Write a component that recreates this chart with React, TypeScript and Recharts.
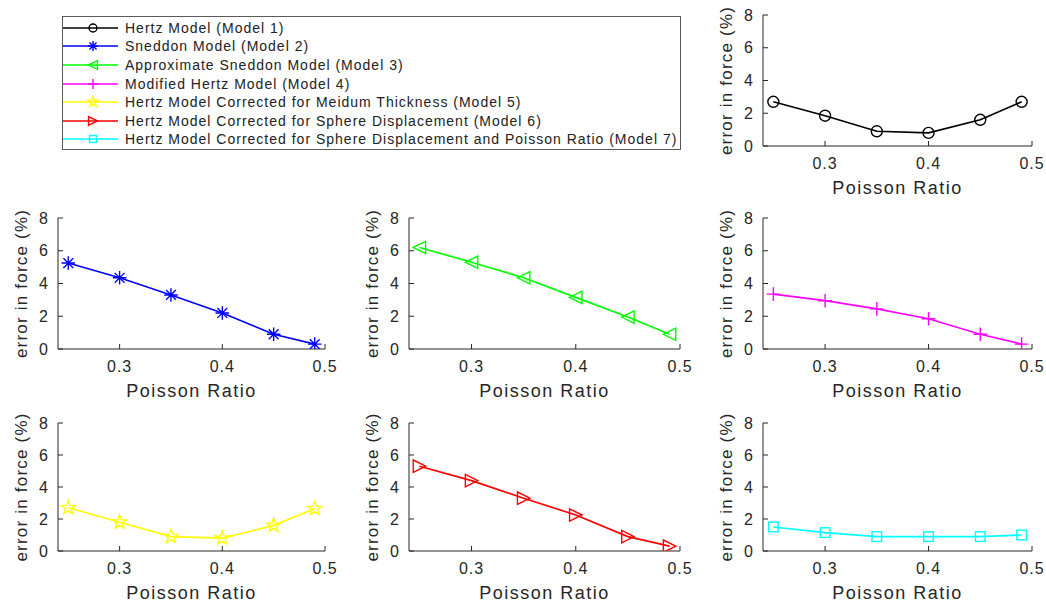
import React from "react";
import { LineChart, Line, XAxis, YAxis } from "recharts";

// x values shared by all seven models
const poissonRatio = [0.25, 0.3, 0.35, 0.4, 0.45, 0.49];

// error in force (%) for each model
const hertzError = [2.7, 1.85, 0.9, 0.8, 1.6, 2.7];
const sneddonError = [5.25, 4.35, 3.3, 2.2, 0.9, 0.3];
const approxSneddonError = [6.2, 5.3, 4.35, 3.15, 1.95, 0.9];
const modifiedHertzError = [3.35, 2.95, 2.45, 1.85, 0.9, 0.3];
const thicknessError = [2.7, 1.8, 0.9, 0.8, 1.6, 2.65];
const displacementError = [5.3, 4.4, 3.3, 2.25, 0.9, 0.3];
const displacementPoissonError = [1.5, 1.15, 0.9, 0.9, 0.9, 1.0];

const xTicks = [0.3, 0.4, 0.5];
const yTicks = [0, 2, 4, 6, 8];

type Shape =
  | "circle"
  | "asterisk"
  | "triangleLeft"
  | "plus"
  | "star"
  | "triangleRight"
  | "square";

type Model = { name: string; values: number[]; color: string; shape: Shape };

const models: Model[] = [
  { name: "Hertz Model (Model 1)", values: hertzError, color: "#000000", shape: "circle" },
  { name: "Sneddon Model (Model 2)", values: sneddonError, color: "#0000ff", shape: "asterisk" },
  { name: "Approximate Sneddon Model (Model 3)", values: approxSneddonError, color: "#00ff00", shape: "triangleLeft" },
  { name: "Modified Hertz Model (Model 4)", values: modifiedHertzError, color: "#ff00ff", shape: "plus" },
  { name: "Hertz Model Corrected for Meidum Thickness (Model 5)", values: thicknessError, color: "#ffff00", shape: "star" },
  { name: "Hertz Model Corrected for Sphere Displacement (Model 6)", values: displacementError, color: "#ff0000", shape: "triangleRight" },
  {
    name: "Hertz Model Corrected for Sphere Displacement and Poisson Ratio (Model 7)",
    values: displacementPoissonError,
    color: "#00ffff",
    shape: "square",
  },
];

// grid slot (col,row) for each model, legend takes the first two top cells
const slots = [
  [2, 0],
  [0, 1],
  [1, 1],
  [2, 1],
  [0, 2],
  [1, 2],
  [2, 2],
];
const colLeft = [58, 409, 763];
const colWidth = [267, 271, 269];
const rowTop = [15, 218, 423];
const rowHeight = [131, 131, 128];

const axisColor = "#262626";
const fontFamily = '"Liberation Sans", Arial, Helvetica, sans-serif';

function Marker({
  shape,
  cx,
  cy,
  color,
  s = 1,
}: {
  shape: Shape;
  cx: number;
  cy: number;
  color: string;
  s?: number;
}) {
  const common = { fill: "none", stroke: color, strokeWidth: 1.4 };
  if (cx == null || cy == null) return null;
  switch (shape) {
    case "circle":
      return <circle cx={cx} cy={cy} r={5.5 * s} {...common} />;
    case "square": {
      const h = 4.8 * s;
      return <rect x={cx - h} y={cy - h} width={h * 2} height={h * 2} {...common} />;
    }
    case "triangleLeft":
    case "triangleRight": {
      const r = 6.2 * s;
      const d = shape === "triangleLeft" ? 1 : -1;
      return (
        <polygon
          points={`${cx - d * r},${cy} ${cx + d * r},${cy - r} ${cx + d * r},${cy + r}`}
          {...common}
        />
      );
    }
    case "plus": {
      const r = 6.8 * s;
      return <path d={`M${cx - r},${cy}H${cx + r}M${cx},${cy - r}V${cy + r}`} {...common} />;
    }
    case "asterisk": {
      const r = 6.8 * s;
      const q = r * 0.72;
      return (
        <path
          d={`M${cx - r},${cy}H${cx + r}M${cx},${cy - r}V${cy + r}M${cx - q},${cy - q}L${cx + q},${cy + q}M${cx - q},${cy + q}L${cx + q},${cy - q}`}
          {...common}
        />
      );
    }
    case "star": {
      const outer = 7.3 * s;
      const inner = 3 * s;
      const pts: string[] = [];
      for (let i = 0; i < 10; i++) {
        const r = i % 2 === 0 ? outer : inner;
        const a = -Math.PI / 2 + (i * Math.PI) / 5;
        pts.push(`${cx + r * Math.cos(a)},${cy + r * Math.sin(a)}`);
      }
      return <polygon points={pts.join(" ")} {...common} />;
    }
  }
  return null;
}

function ModelPanel({ model, col, row }: { model: Model; col: number; row: number }) {
  const padL = 80;
  const padT = 10;
  const padR = 25;
  const xAxisH = 84;
  const yAxisW = 74;
  const w = colWidth[col];
  const h = rowHeight[row];
  const data = poissonRatio.map((x, i) => ({ x, y: model.values[i] }));

  return (
    <div style={{ position: "absolute", left: colLeft[col] - padL, top: rowTop[row] - padT }}>
      <LineChart
        width={w + padL + padR}
        height={h + padT + xAxisH}
        data={data}
        margin={{ top: padT, right: padR, left: padL - yAxisW, bottom: 0 }}
      >
        <XAxis
          dataKey="x"
          type="number"
          domain={[0.24, 0.5]}
          ticks={xTicks}
          interval={0}
          allowDataOverflow
          height={xAxisH}
          stroke={axisColor}
          tickSize={-5}
          tickMargin={17}
          tickFormatter={(v: number) => v.toFixed(1)}
          tick={{ fill: axisColor, fontSize: 16, letterSpacing: 1 }}
          label={{
            value: "Poisson Ratio",
            position: "center",
            fill: axisColor,
            fontSize: 18,
            letterSpacing: 1.5,
          }}
        />
        <XAxis
          xAxisId="top"
          orientation="top"
          dataKey="x"
          type="number"
          domain={[0.24, 0.5]}
          ticks={xTicks}
          interval={0}
          allowDataOverflow
          height={0}
          stroke={axisColor}
          tickSize={-5}
          tickFormatter={() => ""}
        />
        <YAxis
          type="number"
          domain={[0, 8]}
          ticks={yTicks}
          interval={0}
          allowDataOverflow
          width={yAxisW}
          stroke={axisColor}
          tickSize={-5}
          tickMargin={14}
          tick={{ fill: axisColor, fontSize: 16, letterSpacing: 1 }}
          label={{
            value: "error in force (%)",
            angle: -90,
            position: "center",
            fill: axisColor,
            fontSize: 17,
            letterSpacing: 1.2,
          }}
        />
        <YAxis
          yAxisId="right"
          orientation="right"
          type="number"
          domain={[0, 8]}
          ticks={yTicks}
          interval={0}
          allowDataOverflow
          width={0}
          stroke={axisColor}
          tickSize={-5}
          tickFormatter={() => ""}
        />
        <Line
          dataKey="y"
          stroke={model.color}
          strokeWidth={1.7}
          isAnimationActive={false}
          activeDot={false}
          dot={(p: any) => (
            <Marker key={`m-${p.index}`} shape={model.shape} cx={p.cx} cy={p.cy} color={model.color} />
          )}
        />
      </LineChart>
    </div>
  );
}

function LegendBox() {
  return (
    <div
      style={{
        position: "absolute",
        left: 62,
        top: 16,
        width: 617,
        height: 132,
        border: "1px solid #5a5a5a",
        background: "#fff",
      }}
    >
      {models.map((m, i) => (
        <div
          key={m.name}
          style={{
            position: "absolute",
            left: 0,
            top: 1.5 + i * 18.6,
            height: 18.6,
            display: "flex",
            alignItems: "center",
          }}
        >
          <svg width={55} height={18} style={{ display: "block" }}>
            <line x1={0} x2={55} y1={9} y2={9} stroke={m.color} strokeWidth={1.5} />
            <Marker shape={m.shape} cx={30} cy={9} color={m.color} s={0.72} />
          </svg>
          <span
            style={{
              marginLeft: 7,
              fontSize: 14,
              letterSpacing: 1,
              color: "#222",
              whiteSpace: "nowrap",
            }}
          >
            {m.name}
          </span>
        </div>
      ))}
    </div>
  );
}

export default function App() {
  return (
    <div
      style={{
        position: "absolute",
        left: 0,
        top: 0,
        width: 1046,
        height: 602,
        overflow: "hidden",
        background: "#fff",
        fontFamily,
      }}
    >
      {models.map((m, i) => (
        <ModelPanel key={m.name} model={m} col={slots[i][0]} row={slots[i][1]} />
      ))}
      <LegendBox />
    </div>
  );
}
